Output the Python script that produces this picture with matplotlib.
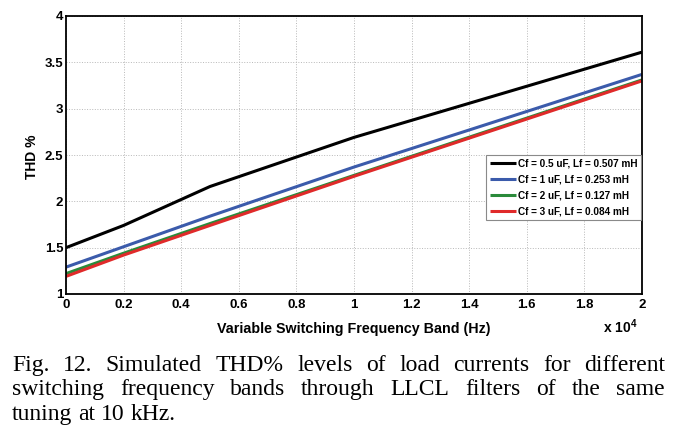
import matplotlib
matplotlib.use("Agg")
import matplotlib.pyplot as plt
from matplotlib.ticker import FuncFormatter

plt.rcParams['font.family'] = ['Liberation Sans', 'DejaVu Sans']
plt.rcParams['mathtext.fontset'] = 'custom'
plt.rcParams['mathtext.bf'] = 'Liberation Sans:bold'
plt.rcParams['mathtext.rm'] = 'Liberation Sans:bold'

# switching frequency band (Hz) and THD % per filter design
freq_hz = [0, 2000, 5000, 10000, 20000]
thd_05uF = [1.50, 1.74, 2.16, 2.69, 3.61]
thd_1uF = [1.29, 1.51, 1.84, 2.37, 3.37]
thd_2uF = [1.22, 1.44, 1.76, 2.28, 3.31]
thd_3uF = [1.19, 1.42, 1.74, 2.27, 3.30]
series_labels = ['Cf = 0.5 uF, Lf = 0.507 mH', 'Cf = 1 uF, Lf = 0.253 mH',
                 'Cf = 2 uF, Lf = 0.127 mH', 'Cf = 3 uF, Lf = 0.084 mH']
series_colors = ['#000000', '#3b5bab', '#2a8a3a', '#e02a2a']

caption_lines = ['Fig. 12. Simulated THD% levels of load currents for different',
                 'switching frequency bands through LLCL filters of the same',
                 'tuning at 10 kHz.']

W, H = 685, 443
fig = plt.figure(figsize=(W / 100, H / 100), dpi=100)
ax = fig.add_axes([66 / W, 1 - 294 / H, 576 / W, 278 / H])

for ys, lab, col in zip([thd_05uF, thd_1uF, thd_2uF, thd_3uF], series_labels, series_colors):
    ax.plot(freq_hz, ys, color=col, lw=2.2, label=lab, solid_capstyle='butt')

ax.set_xlim(0, 20000)
ax.set_ylim(1, 4)
ax.set_xticks(range(0, 20001, 2000))
ax.set_yticks([1, 1.5, 2, 2.5, 3, 3.5, 4])
ax.xaxis.set_major_formatter(FuncFormatter(lambda v, p: '%g' % (v / 1e4)))
ax.yaxis.set_major_formatter(FuncFormatter(lambda v, p: '%g' % v))
ax.tick_params(axis='x', length=0, pad=3.5, labelsize=9.5)
ax.tick_params(axis='y', length=0, pad=2, labelsize=9.5)
for t in ax.get_xticklabels() + ax.get_yticklabels():
    t.set_fontweight('bold')
ax.grid(True, linestyle=':', color='#b8b8b8', lw=0.7)
for s in ax.spines.values():
    s.set_linewidth(1.3)

leg = ax.legend(loc='upper right', bbox_to_anchor=(0.998, 0.5),
                prop={'weight': 'bold', 'size': 7.2}, fancybox=False, framealpha=1,
                edgecolor='#8a8a8a', handlelength=2.6, handletextpad=0.2,
                labelspacing=0.6, borderpad=0.35, borderaxespad=0)
leg.get_frame().set_linewidth(0.8)

fig.text(32 / W, 1 - 157 / H, 'THD %', rotation=90, ha='center', va='center',
         fontsize=10, fontweight='bold')
fig.text(354 / W, 1 - 322 / H, 'Variable Switching Frequency Band (Hz)', ha='center',
         va='top', fontsize=10.3, fontweight='bold')
fig.text(638 / W, 1 - 333 / H, r'x 10$^{\mathbf{4}}$', ha='right', va='baseline',
         fontsize=10, fontweight='bold')

# justified caption, word by word
renderer = fig.canvas.get_renderer()
left_px, right_px = 12, 665
baselines = [371, 395, 420]
for i, line in enumerate(caption_lines):
    words = line.split(' ')
    y = 1 - baselines[i] / H
    texts = [fig.text(0, y, w, fontsize=17, family='Liberation Serif', va='baseline')
             for w in words]
    widths = [t.get_window_extent(renderer).width for t in texts]
    if i < len(caption_lines) - 1:
        gap = (right_px - left_px - sum(widths)) / (len(words) - 1)
    else:
        space = fig.text(0, 0, 'a a', fontsize=17, family='Liberation Serif')
        aa = fig.text(0, 0, 'aa', fontsize=17, family='Liberation Serif')
        gap = space.get_window_extent(renderer).width - aa.get_window_extent(renderer).width
        space.remove()
        aa.remove()
    x = left_px
    for t, w in zip(texts, widths):
        t.set_x(x / W)
        x += w + gap

fig.savefig('out.png', dpi=100)
